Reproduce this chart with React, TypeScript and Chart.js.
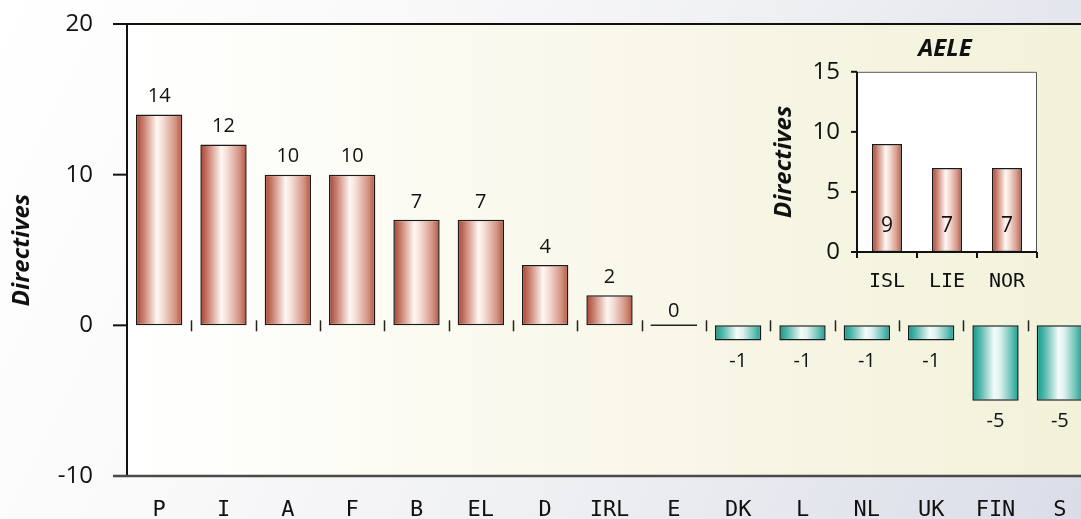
import React, { useEffect, useRef } from "react";
import { Chart, registerables } from "chart.js";

Chart.register(...registerables);

// ---------- data ----------
const categories = ["P", "I", "A", "F", "B", "EL", "D", "IRL", "E", "DK", "L", "NL", "UK", "FIN", "S"];
const directiveValues = [14, 12, 10, 10, 7, 7, 4, 2, 0, -1, -1, -1, -1, -5, -5];
const yTickValues = [20, 10, 0, -10];
const aeleCategories = ["ISL", "LIE", "NOR"];
const aeleValues = [9, 7, 7];
const aeleTickValues = [15, 10, 5, 0];
const yAxisTitle = "Directives";
const insetTitle = "AELE";

// ---------- styles ----------
const RED_STOPS: [number, string][] = [
  [0, "#a9402e"],
  [0.18, "#cc8676"],
  [0.45, "#fff7f3"],
  [0.58, "#f5ddd5"],
  [0.85, "#d29282"],
  [1, "#b35240"],
];
const TEAL_STOPS: [number, string][] = [
  [0, "#0a9a8a"],
  [0.18, "#58b9ae"],
  [0.47, "#f4fbfa"],
  [0.6, "#dcf1ee"],
  [0.85, "#66c0b5"],
  [1, "#12a091"],
];
const MAIN_BAR_PCT = 0.72;
const INSET_BAR_PCT = 0.5;
const TICK_FONT = "Open Sans";
const CAT_FONT = "DejaVu Sans Mono";

function gradientFill(ctx: any, stops: [number, string][], pct: number) {
  const chart = ctx.chart;
  const xs = chart.scales && chart.scales.x;
  if (!xs || !chart.chartArea) return stops[0][1];
  const n = chart.data.labels.length;
  const bw = (xs.width / n) * pct;
  const cx = xs.getPixelForValue(ctx.dataIndex);
  if (!isFinite(cx)) return stops[0][1];
  const g = chart.ctx.createLinearGradient(cx - bw / 2, 0, cx + bw / 2, 0);
  stops.forEach(([o, c]) => g.addColorStop(o, c));
  return g;
}

const mainDecor = {
  id: "mainDecor",
  beforeDraw(chart: any) {
    const { ctx, width, height, chartArea: a } = chart;
    ctx.save();
    const bg = ctx.createLinearGradient(0, 0, width, height);
    bg.addColorStop(0, "#ffffff");
    bg.addColorStop(0.3, "#f9f9fa");
    bg.addColorStop(0.6, "#eeeff2");
    bg.addColorStop(1, "#d9dce8");
    ctx.fillStyle = bg;
    ctx.fillRect(0, 0, width, height);
    const pg = ctx.createLinearGradient(a.left, 0, a.right, 0);
    pg.addColorStop(0, "#ffffff");
    pg.addColorStop(0.35, "#fbfaf0");
    pg.addColorStop(1, "#f2f1d9");
    ctx.fillStyle = pg;
    ctx.fillRect(a.left, a.top, a.right - a.left, a.bottom - a.top);
    ctx.restore();
  },
  afterDatasetsDraw(chart: any) {
    const { ctx, chartArea: a, width } = chart;
    const ys = chart.scales.y;
    const y0 = ys.getPixelForValue(0);
    ctx.save();
    // zero line cross ticks
    ctx.strokeStyle = "#222";
    ctx.lineWidth = 1.5;
    const n = categories.length;
    const cw = (a.right - a.left) / n;
    for (let i = 1; i < n; i++) {
      const x = Math.round(a.left + i * cw) + 0.5;
      ctx.beginPath();
      ctx.moveTo(x, y0 - 5);
      ctx.lineTo(x, y0 + 6);
      ctx.stroke();
    }
    // left axis
    ctx.strokeStyle = "#111";
    ctx.lineWidth = 2;
    ctx.beginPath();
    ctx.moveTo(a.left, a.top);
    ctx.lineTo(a.left, a.bottom);
    ctx.stroke();
    // y ticks
    yTickValues.forEach((v) => {
      const y = ys.getPixelForValue(v);
      ctx.beginPath();
      ctx.moveTo(a.left - 14, y);
      ctx.lineTo(a.left, y);
      ctx.stroke();
    });
    // top border
    ctx.beginPath();
    ctx.moveTo(a.left - 14, a.top);
    ctx.lineTo(width, a.top);
    ctx.stroke();
    // bottom border
    ctx.strokeStyle = "#4a4a4a";
    ctx.lineWidth = 2.5;
    ctx.beginPath();
    ctx.moveTo(a.left - 14, a.bottom);
    ctx.lineTo(width, a.bottom);
    ctx.stroke();
    // data labels
    const meta = chart.getDatasetMeta(0);
    ctx.fillStyle = "#111";
    ctx.font = `20px ${TICK_FONT}`;
    ctx.textAlign = "center";
    ctx.textBaseline = "middle";
    meta.data.forEach((el: any, i: number) => {
      const v = directiveValues[i];
      const x = el.x;
      if (v > 0) {
        ctx.fillText(String(v), x, el.y - 18);
      } else if (v < 0) {
        ctx.fillText(String(v), x, el.y + 21);
      } else {
        const bw = cw * MAIN_BAR_PCT;
        ctx.strokeStyle = "#222";
        ctx.lineWidth = 1.5;
        ctx.beginPath();
        ctx.moveTo(x - bw / 2, y0);
        ctx.lineTo(x + bw / 2, y0);
        ctx.stroke();
        ctx.fillText(String(v), x, y0 - 14);
      }
    });
    ctx.restore();
  },
};

const insetDecor = {
  id: "insetDecor",
  beforeDraw(chart: any) {
    const { ctx, chartArea: a } = chart;
    ctx.save();
    ctx.fillStyle = "#ffffff";
    ctx.fillRect(a.left, a.top, a.right - a.left, a.bottom - a.top);
    ctx.restore();
  },
  afterDatasetsDraw(chart: any) {
    const { ctx, chartArea: a } = chart;
    const ys = chart.scales.y;
    ctx.save();
    ctx.strokeStyle = "#555";
    ctx.lineWidth = 1;
    ctx.beginPath();
    ctx.moveTo(a.left, a.top + 0.5);
    ctx.lineTo(a.right - 0.5, a.top + 0.5);
    ctx.lineTo(a.right - 0.5, a.bottom);
    ctx.stroke();
    ctx.strokeStyle = "#111";
    ctx.lineWidth = 2;
    ctx.beginPath();
    ctx.moveTo(a.left, a.top);
    ctx.lineTo(a.left, a.bottom);
    ctx.lineTo(a.right, a.bottom);
    ctx.stroke();
    aeleTickValues.forEach((v) => {
      const y = ys.getPixelForValue(v);
      ctx.beginPath();
      ctx.moveTo(a.left - 6, y);
      ctx.lineTo(a.left, y);
      ctx.stroke();
    });
    const n = aeleCategories.length;
    const cw = (a.right - a.left) / n;
    for (let i = 0; i <= n; i++) {
      const x = a.left + i * cw;
      ctx.beginPath();
      ctx.moveTo(x, a.bottom);
      ctx.lineTo(x, a.bottom + 6);
      ctx.stroke();
    }
    const meta = chart.getDatasetMeta(0);
    const base = ys.getPixelForValue(0);
    ctx.fillStyle = "#111";
    ctx.font = `21px ${TICK_FONT}`;
    ctx.textAlign = "center";
    ctx.textBaseline = "middle";
    meta.data.forEach((el: any, i: number) => {
      ctx.fillText(String(aeleValues[i]), el.x, base - 26);
    });
    ctx.restore();
  },
};

export default function App() {
  const mainRef = useRef<HTMLCanvasElement>(null);
  const insetRef = useRef<HTMLCanvasElement>(null);

  useEffect(() => {
    const main = new Chart(mainRef.current as HTMLCanvasElement, {
      type: "bar",
      data: {
        labels: categories,
        datasets: [
          {
            data: directiveValues,
            backgroundColor: (c: any) => gradientFill(c, c.raw < 0 ? TEAL_STOPS : RED_STOPS, MAIN_BAR_PCT),
            borderColor: "#1a1a1a",
            borderWidth: 1.5,
            borderSkipped: false,
            barPercentage: MAIN_BAR_PCT,
            categoryPercentage: 1,
          },
        ],
      },
      options: {
        responsive: false,
        animation: false,
        layout: { padding: { left: 0, right: 8, top: 24, bottom: 0 } },
        plugins: { legend: { display: false }, tooltip: { enabled: false }, title: { display: false } },
        scales: {
          x: {
            grid: { display: false, drawTicks: false },
            border: { display: false },
            ticks: {
              font: { family: CAT_FONT, size: 22 },
              color: "#111",
              padding: 21,
              maxRotation: 0,
              autoSkip: false,
            },
            afterFit: (s: any) => {
              s.height = 64;
            },
          },
          y: {
            min: -10,
            max: 20,
            afterBuildTicks: (s: any) => {
              s.ticks = yTickValues.map((v) => ({ value: v }));
            },
            grid: { display: false, drawTicks: true, tickLength: 30 },
            border: { display: false },
            ticks: {
              font: { family: TICK_FONT, size: 24 },
              color: "#111",
              padding: 4,
            },
            title: {
              display: true,
              text: yAxisTitle,
              color: "#111",
              font: { family: TICK_FONT, size: 24, weight: "bold", style: "italic" },
              padding: { top: 8, bottom: 0 },
            },
            afterFit: (s: any) => {
              s.width = 127;
            },
          },
        },
      } as any,
      plugins: [mainDecor],
    });

    const inset = new Chart(insetRef.current as HTMLCanvasElement, {
      type: "bar",
      data: {
        labels: aeleCategories,
        datasets: [
          {
            data: aeleValues,
            backgroundColor: (c: any) => gradientFill(c, RED_STOPS, INSET_BAR_PCT),
            borderColor: "#1a1a1a",
            borderWidth: 1.5,
            borderSkipped: false,
            barPercentage: INSET_BAR_PCT,
            categoryPercentage: 1,
          },
        ],
      },
      options: {
        responsive: false,
        animation: false,
        layout: { padding: 0 },
        plugins: {
          legend: { display: false },
          tooltip: { enabled: false },
          title: {
            display: true,
            text: insetTitle,
            color: "#111",
            font: { family: TICK_FONT, size: 24, weight: "bold", style: "italic" },
            padding: { top: 10, bottom: 8 },
          },
        },
        scales: {
          x: {
            grid: { display: false, drawTicks: false },
            border: { display: false },
            ticks: {
              font: { family: CAT_FONT, size: 20 },
              color: "#111",
              padding: 18,
              maxRotation: 0,
              autoSkip: false,
            },
            afterFit: (s: any) => {
              s.height = 53;
            },
          },
          y: {
            min: 0,
            max: 15,
            afterBuildTicks: (s: any) => {
              s.ticks = aeleTickValues.map((v) => ({ value: v }));
            },
            grid: { display: false, drawTicks: false },
            border: { display: false },
            ticks: {
              font: { family: TICK_FONT, size: 24 },
              color: "#111",
              padding: 17,
            },
            title: {
              display: true,
              text: yAxisTitle,
              color: "#111",
              font: { family: TICK_FONT, size: 24, weight: "bold", style: "italic" },
              padding: { top: 10, bottom: 0 },
            },
            afterFit: (s: any) => {
              s.width = 97;
            },
          },
          y2: {
            type: "linear",
            position: "right",
            display: true,
            grid: { display: false, drawTicks: false },
            border: { display: false },
            ticks: { display: false },
            afterFit: (s: any) => {
              s.width = 93;
            },
          },
        },
      } as any,
      plugins: [insetDecor],
    });

    return () => {
      main.destroy();
      inset.destroy();
    };
  }, []);

  return (
    <div
      style={{
        position: "fixed",
        left: 0,
        top: 0,
        width: 1081,
        height: 519,
        overflow: "hidden",
        background: "#ffffff",
      }}
    >
      <canvas
        ref={mainRef}
        width={1100}
        height={540}
        style={{ position: "absolute", left: 0, top: 0, width: 1100, height: 540, display: "block" }}
      />
      <canvas
        ref={insetRef}
        width={370}
        height={280}
        style={{ position: "absolute", left: 760, top: 25, width: 370, height: 280, display: "block" }}
      />
    </div>
  );
}
